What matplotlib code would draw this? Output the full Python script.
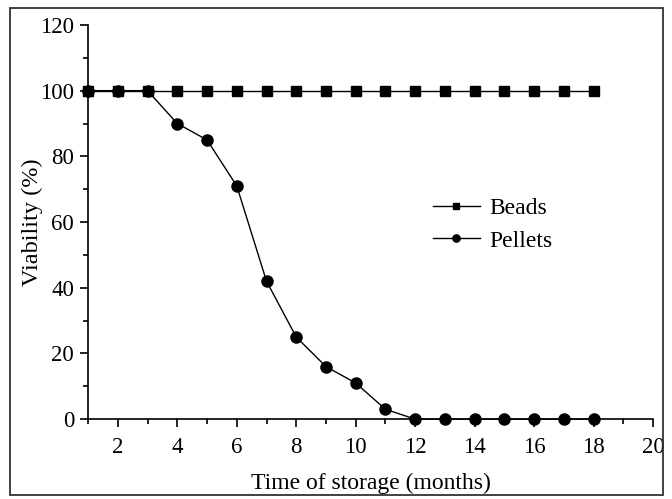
import matplotlib
matplotlib.use("Agg")
import matplotlib.pyplot as plt
from matplotlib.patches import Rectangle
from matplotlib.ticker import MultipleLocator

plt.rcParams['font.family'] = ['Liberation Serif', 'DejaVu Serif']

# data
months_beads = [1, 2, 3, 4, 5, 6, 7, 8, 9, 10, 11, 12, 13, 14, 15, 16, 17, 18]
beads = [100, 100, 100, 100, 100, 100, 100, 100, 100, 100, 100, 100, 100, 100, 100, 100, 100, 100]
months_pellets = [1, 2, 3, 4, 5, 6, 7, 8, 9, 10, 11, 12, 13, 14, 15, 16, 17, 18]
pellets = [100, 100, 100, 90, 85, 71, 42, 25, 16, 11, 3, 0, 0, 0, 0, 0, 0, 0]

fig = plt.figure(figsize=(6.72, 4.99), dpi=100)
ax = fig.add_axes([0.131, 0.160, 0.841, 0.790])

# frame round the whole figure
fig.patches.append(Rectangle((0.015, 0.008), 0.972, 0.975, transform=fig.transFigure,
                             fill=False, edgecolor='#333333', linewidth=1.3))

ax.plot(months_beads, beads, color='black', lw=1, marker='s', ms=7, label='Beads', clip_on=False, zorder=3)
ax.plot(months_pellets, pellets, color='black', lw=1, marker='o', ms=8, label='Pellets', clip_on=False, zorder=3)

ax.set_xlim(1, 20)
ax.set_ylim(0, 120)
ax.xaxis.set_major_locator(MultipleLocator(2))
ax.xaxis.set_minor_locator(MultipleLocator(1))
ax.yaxis.set_major_locator(MultipleLocator(20))
ax.yaxis.set_minor_locator(MultipleLocator(10))

ax.spines['top'].set_visible(False)
ax.spines['right'].set_visible(False)
for s in ['left', 'bottom']:
    ax.spines[s].set_linewidth(1.2)

ax.tick_params(which='major', direction='out', length=6, width=1.2, labelsize=16.5)
ax.tick_params(axis='x', which='major', pad=7)
ax.tick_params(axis='y', which='major', pad=4)
ax.tick_params(which='minor', direction='out', length=3.5, width=1.2)

ax.set_xlabel('Time of storage (months)', fontsize=17)
ax.set_ylabel('Viability (%)', fontsize=17.5)
ax.xaxis.set_label_coords(0.5, -0.135)
ax.yaxis.set_label_coords(-0.079, 0.5)

ax.legend(loc='upper left', bbox_to_anchor=(0.572, 0.615), frameon=False, fontsize=17,
          handlelength=2.0, handletextpad=0.4, labelspacing=0.45, markerscale=0.65)

fig.savefig('out.png', dpi=100)
